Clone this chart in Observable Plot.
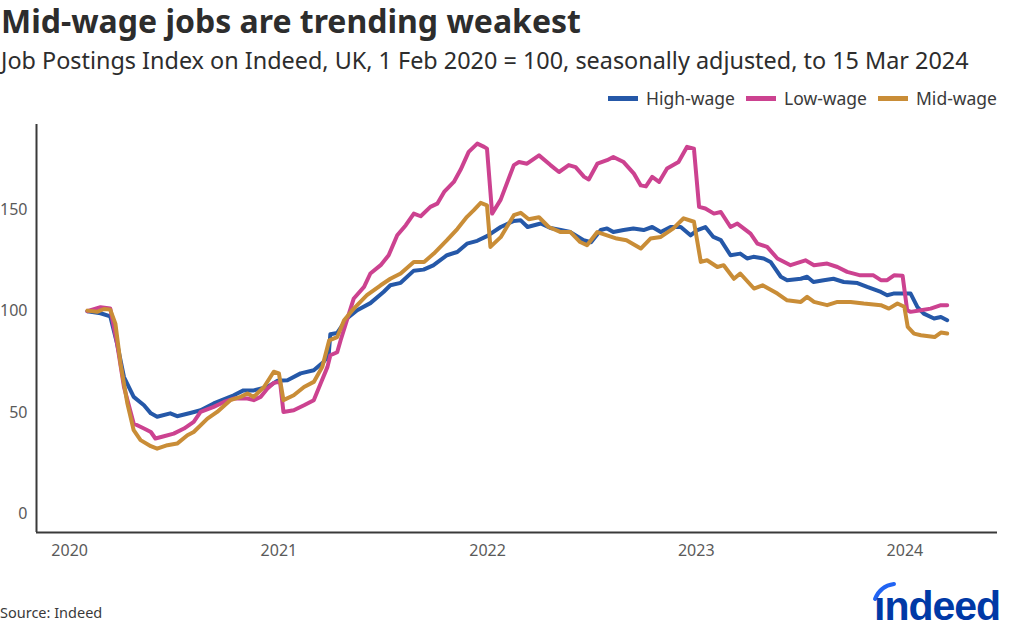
<!DOCTYPE html>
<html>
<head>
<meta charset="utf-8">
<script src="https://cdn.jsdelivr.net/npm/d3@7"></script>
<script src="https://cdn.jsdelivr.net/npm/@observablehq/plot@0.6"></script>
<style>
  html, body { margin: 0; padding: 0; background: #fff; }
  body { width: 1024px; height: 633px; position: relative; overflow: hidden; font-family: "Noto Sans", sans-serif; color: #2d2d2d; }
  #title { position: absolute; left: 1px; top: 5px; font-size: 32px; line-height: 1; font-weight: 700; color: #2d2d2d; white-space: nowrap; }
  #subtitle { position: absolute; left: 1px; top: 49px; font-size: 23.4px; line-height: 1; color: #2d2d2d; white-space: nowrap; }
  #legend { position: absolute; right: 27px; top: 86px; font-size: 17.5px; line-height: 24px; color: #3a3a3a; display: flex; gap: 11px; white-space: nowrap; }
  #legend .item { display: flex; align-items: center; gap: 8px; }
  #legend .sw { width: 30px; height: 5px; display: inline-block; }
  #chart { position: absolute; left: 0; top: 110px; }
  #source { position: absolute; left: 0; top: 602px; font-size: 14.5px; color: #3a3a3a; }
  #logo { position: absolute; left: 870px; top: 572px; }
</style>
</head>
<body>
<div id="title">Mid-wage jobs are trending weakest</div>
<div id="subtitle">Job Postings Index on Indeed, UK, 1 Feb 2020 = 100, seasonally adjusted, to 15 Mar 2024</div>
<div id="legend"></div>
<div id="chart"></div>
<div id="source">Source: Indeed</div>
<div id="logo"></div>
<script>
const seriesNames = ["High-wage", "Low-wage", "Mid-wage"];
const seriesColors = ["#2558a8", "#cc4290", "#c98d37"];
const yTicks = [0, 50, 100, 150];
const xTicks = ["2020-01-01", "2021-01-01", "2022-01-01", "2023-01-01", "2024-01-01"];

const highWage = [
["2020-02-01",100],["2020-02-24",99],["2020-03-12",97.5],["2020-03-24",84],["2020-04-05",67.6],["2020-04-22",57.8],
["2020-05-10",53.7],["2020-05-22",49.7],["2020-06-02",48],["2020-06-25",49.7],["2020-07-07",48.3],["2020-07-30",49.9],
["2020-08-17",51.2],["2020-09-09",54.6],["2020-10-14",58.6],["2020-10-31",61],["2020-11-18",61],["2020-12-12",62.7],
["2020-12-29",65.7],["2021-01-16",66],["2021-02-08",69.4],["2021-03-03",70.9],["2021-03-20",75],["2021-03-29",78.3],
["2021-04-01",88.7],["2021-04-13",89.3],["2021-04-30",96.4],["2021-05-18",100.5],["2021-06-10",104],["2021-07-03",109.5],
["2021-07-15",112.8],["2021-08-02",114],["2021-08-25",120],["2021-09-11",120.5],["2021-09-28",122.6],["2021-10-22",127.6],
["2021-11-09",129.2],["2021-11-26",133.3],["2021-12-14",134.7],["2021-12-31",137],["2022-01-24",141.5],["2022-02-16",144.5],
["2022-02-28",144.8],["2022-03-12",141.5],["2022-04-04",143.2],["2022-04-21",141],["2022-05-09",140],["2022-05-26",139],
["2022-06-18",135],["2022-07-01",134],["2022-07-18",140],["2022-07-29",140.8],["2022-08-09",139],["2022-08-27",140],
["2022-09-13",140.8],["2022-10-01",140],["2022-10-16",141.5],["2022-10-31",139],["2022-11-17",141.5],["2022-12-05",141.5],
["2022-12-22",137.4],["2023-01-03",140],["2023-01-17",141.5],["2023-01-31",136.6],["2023-02-13",135],["2023-03-02",127.6],
["2023-03-19",128.4],["2023-03-31",126],["2023-04-11",126.8],["2023-04-29",126],["2023-05-11",124.3],["2023-05-29",117],
["2023-06-09",115.3],["2023-07-03",116],["2023-07-14",117],["2023-07-25",114.4],["2023-08-12",115.3],["2023-08-29",116],
["2023-09-16",114.4],["2023-10-10",113.9],["2023-10-27",112],["2023-11-20",109.5],["2023-12-01",107.9],["2023-12-12",108.7],
["2023-12-30",108.7],["2024-01-11",108.7],["2024-01-23",102],["2024-02-03",98.8],["2024-02-21",96.4],["2024-03-04",97.2],
["2024-03-15",95.6]
];

const lowWage = [
["2020-02-01",100],["2020-02-24",102],["2020-03-12",101.4],["2020-03-24",84],["2020-04-05",62.7],["2020-04-22",44.7],
["2020-05-10",42.2],["2020-05-22",40.5],["2020-05-30",37.3],["2020-06-14",38.4],["2020-07-01",39.7],["2020-07-19",42.2],
["2020-08-05",45.5],["2020-08-17",50.4],["2020-09-09",52.9],["2020-09-27",55.3],["2020-10-14",57],["2020-11-07",57],
["2020-11-18",56.2],["2020-11-30",57.8],["2020-12-12",61.9],["2020-12-23",64.7],["2021-01-03",65.2],["2021-01-09",50.4],
["2021-01-27",51.2],["2021-02-14",53.7],["2021-03-03",56.2],["2021-03-15",64.4],["2021-03-27",72.6],["2021-04-01",78.3],
["2021-04-13",79.8],["2021-04-19",85.7],["2021-04-30",95.6],["2021-05-12",106.3],["2021-05-30",112],["2021-06-10",118.6],
["2021-06-28",122.7],["2021-07-12",127.6],["2021-07-27",137.4],["2021-08-11",142.4],["2021-08-25",148.1],["2021-09-06",146.8],
["2021-09-23",151.4],["2021-10-05",153],["2021-10-17",158.8],["2021-11-03",163.7],["2021-11-15",169.8],["2021-11-29",178.5],
["2021-12-14",182.6],["2021-12-26",181],["2021-12-31",180.1],["2022-01-09",148.1],["2022-01-24",155],["2022-02-16",172],
["2022-02-25",173.5],["2022-03-11",172.7],["2022-04-01",176.8],["2022-04-21",172],["2022-05-06",168.6],["2022-05-23",172],
["2022-06-04",171],["2022-06-19",166.2],["2022-06-27",164.9],["2022-07-12",172.7],["2022-07-29",174.4],["2022-08-09",176],
["2022-08-27",173.5],["2022-09-14",167.8],["2022-09-26",162],["2022-10-05",161.5],["2022-10-16",166.2],["2022-10-28",163.7],
["2022-11-11",170.3],["2022-12-01",173.5],["2022-12-16",181],["2022-12-28",180.1],["2023-01-06",151.4],["2023-01-17",150.6],
["2023-02-01",148.1],["2023-02-13",148.9],["2023-03-02",141.5],["2023-03-14",143.2],["2023-04-06",138.2],["2023-04-18",133.3],
["2023-05-05",131.7],["2023-05-23",126],["2023-06-15",122.7],["2023-07-11",125.1],["2023-07-26",122.7],["2023-08-18",123.5],
["2023-09-05",121.8],["2023-09-22",119.4],["2023-10-15",117.7],["2023-11-07",117.7],["2023-11-20",115.3],["2023-12-01",115.3],
["2023-12-13",117.7],["2023-12-28",117.5],["2024-01-05",100.5],["2024-01-11",99.7],["2024-01-29",100.5],["2024-02-15",101.3],
["2024-03-04",103],["2024-03-15",103]
];

const midWage = [
["2020-02-01",100.3],["2020-02-18",99.7],["2020-03-01",101.1],["2020-03-12",100.8],["2020-03-21",93.9],["2020-03-30",74.2],
["2020-04-11",54.5],["2020-04-22",41.4],["2020-05-04",36.5],["2020-05-22",33.5],["2020-06-02",32.3],["2020-06-20",34],
["2020-07-07",34.8],["2020-07-25",38.9],["2020-08-05",40.5],["2020-08-29",47.1],["2020-09-15",50.4],["2020-10-08",56.2],
["2020-10-26",57.8],["2020-11-07",59.5],["2020-11-18",57.8],["2020-12-06",62.7],["2020-12-23",70.2],["2021-01-01",69.4],
["2021-01-09",56.2],["2021-01-27",58.6],["2021-02-14",62.7],["2021-03-03",65.2],["2021-03-18",72.6],["2021-03-30",85.7],
["2021-04-13",87.3],["2021-04-25",95.6],["2021-05-12",101.3],["2021-06-04",107.9],["2021-06-28",112.8],["2021-07-15",116],
["2021-08-02",118.6],["2021-08-25",124.3],["2021-09-12",124.3],["2021-09-29",128.4],["2021-10-22",135],["2021-11-09",140.5],
["2021-11-26",146.5],["2021-12-08",149.8],["2021-12-20",153.4],["2021-12-31",152.2],["2022-01-06",131.7],["2022-01-24",136.5],
["2022-02-16",147.3],["2022-02-28",148.5],["2022-03-14",145.3],["2022-04-01",146.3],["2022-04-18",141.5],["2022-05-09",139],
["2022-05-26",139],["2022-06-12",134.1],["2022-06-24",132.5],["2022-07-12",139],["2022-07-29",137.4],["2022-08-15",135.8],
["2022-09-01",135],["2022-09-26",130.9],["2022-10-13",135.8],["2022-10-31",136.6],["2022-11-22",140.8],["2022-12-10",145.8],
["2022-12-28",144.1],["2023-01-09",124.3],["2023-01-20",125.1],["2023-02-07",121.8],["2023-02-18",122.7],["2023-03-08",116],
["2023-03-19",118.6],["2023-04-12",111.2],["2023-04-27",112.8],["2023-05-23",108.7],["2023-06-09",105.4],["2023-07-03",104.6],
["2023-07-14",107.1],["2023-07-26",104.6],["2023-08-18",103],["2023-09-05",104.6],["2023-09-28",104.6],["2023-10-21",103.8],
["2023-11-20",103],["2023-12-04",101.3],["2023-12-19",103.8],["2023-12-31",102.2],["2024-01-06",92.3],["2024-01-17",89],
["2024-01-29",88.2],["2024-02-22",87.3],["2024-03-04",89.5],["2024-03-15",89]
];

const parse = d3.utcParse("%Y-%m-%d");
const rows = [];
[highWage, lowWage, midWage].forEach((s, i) => {
  s.forEach(([d, v]) => rows.push({date: parse(d), value: v, series: seriesNames[i]}));
});

const chart = Plot.plot({
  width: 1024,
  height: 460,
  marginLeft: 36,
  marginRight: 27,
  marginTop: 14,
  marginBottom: 38,
  style: {fontFamily: "Noto Sans, sans-serif", fontSize: "16px", color: "#5a5a5a", background: "white"},
  x: {type: "utc", domain: [parse("2019-11-04"), parse("2024-06-11")]},
  y: {domain: [-9, 192]},
  color: {domain: seriesNames, range: seriesColors},
  marks: [
    Plot.axisY({ticks: yTicks, tickSize: 0, tickPadding: 9, label: null, fill: "#5a5a5a"}),
    Plot.axisX({ticks: xTicks.map(parse), tickSize: 0, tickPadding: 12, tickFormat: d3.utcFormat("%Y"), label: null, fill: "#5a5a5a"}),
    Plot.line(rows, {x: "date", y: "value", z: "series", stroke: "series", strokeWidth: 4, strokeLinejoin: "round", strokeLinecap: "round"}),
    Plot.ruleX([parse("2019-11-04")], {stroke: "#3a3a3a", strokeWidth: 2}),
    Plot.ruleY([-9], {stroke: "#3a3a3a", strokeWidth: 2})
  ]
});
document.getElementById("chart").appendChild(chart);

const legend = document.getElementById("legend");
seriesNames.forEach((n, i) => {
  const item = document.createElement("span");
  item.className = "item";
  const sw = document.createElement("span");
  sw.className = "sw";
  sw.style.background = seriesColors[i];
  const t = document.createElement("span");
  t.textContent = n;
  item.appendChild(sw); item.appendChild(t);
  legend.appendChild(item);
});

document.getElementById("logo").innerHTML =
  '<svg width="140" height="56" xmlns="http://www.w3.org/2000/svg">' +
  '<path d="M5 27 Q10 14 24 12" fill="none" stroke="#2164f3" stroke-width="4" stroke-linecap="round"/>' +
  '<text x="4" y="48" font-family="Liberation Sans, Arial, sans-serif" font-weight="700" font-size="41" fill="#0039a6" letter-spacing="-1">\u0131ndeed</text>' +
  '</svg>';
</script>
</body>
</html>
